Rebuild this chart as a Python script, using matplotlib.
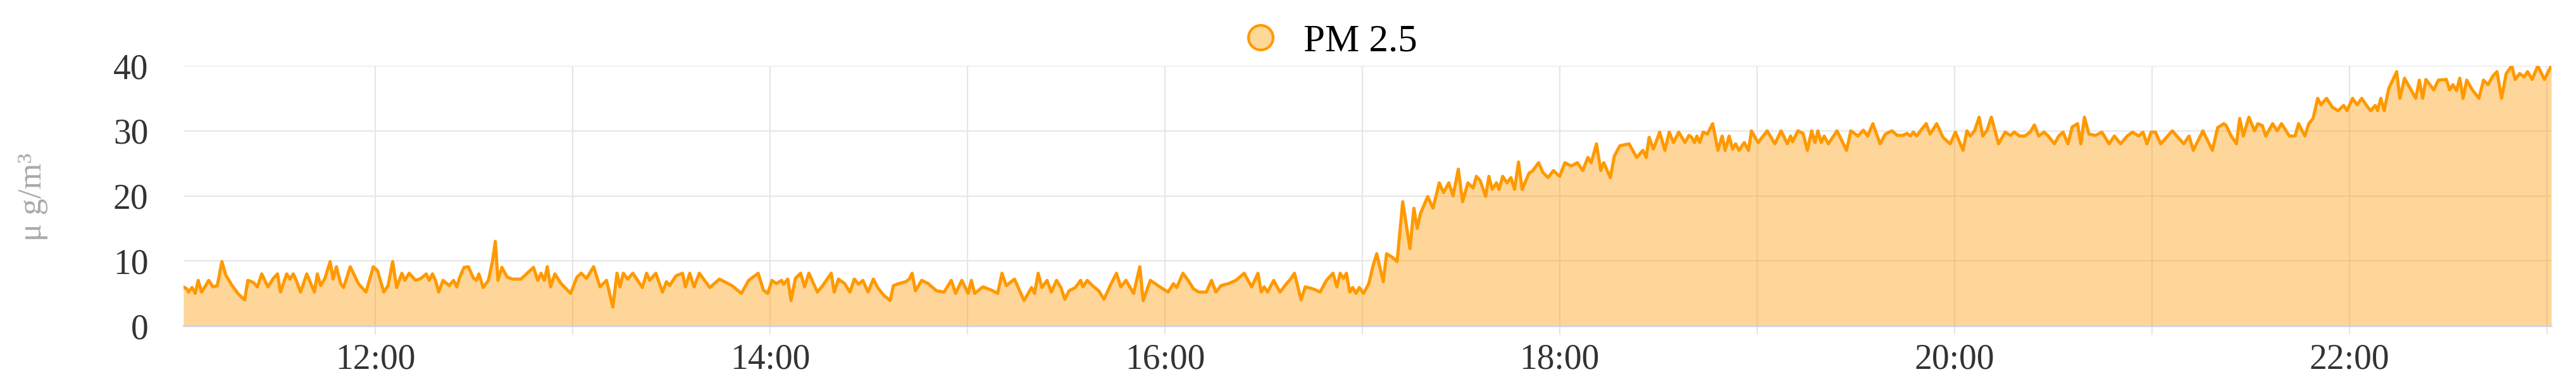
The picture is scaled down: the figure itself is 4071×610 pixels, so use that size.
import matplotlib.pyplot as plt
from matplotlib.lines import Line2D

plt.rcParams["font.family"] = ["Liberation Serif", "DejaVu Serif"]

# Readings taken off the chart: minutes after 11:00 and PM 2.5 in ug/m3.
minutes = [
    1.7, 2.7, 3.3, 4.3, 5.3, 6.2, 7.2, 8.1, 9.4, 10.7, 12.0, 13.4, 14.6, 16.5,
    18.4, 20.3, 21.3, 22.9, 24.2, 25.5, 27.4, 29.0, 30.3, 31.2, 33.1, 34.1,
    35.1, 36.0, 37.3, 39.2, 41.5, 42.4, 43.4, 44.7, 46.3, 47.2, 48.2, 49.5,
    50.4, 52.4, 54.9, 57.2, 59.4, 60.7, 62.6, 63.9, 65.3,
    66.5, 68.1, 69.0, 70.3, 72.3, 73.9, 75.5, 76.4, 77.4, 78.3, 79.3, 80.6,
    82.5, 83.8, 84.8, 85.7, 87.0, 88.3, 89.9, 90.8, 91.5, 92.8, 94.4, 95.7,
    96.5, 97.3, 98.5, 100.1, 101.7, 104.3, 106.2, 108.1, 109.4, 110.4, 111.4,
    112.3, 113.3, 114.6, 116.5, 119.4, 121.3, 122.6, 124.2, 126.4, 128.3,
    130.3, 132.2,
    133.5, 134.4, 135.4, 136.7, 138.3, 141.2, 142.5, 143.4, 145.3, 147.3,
    148.5, 149.5, 151.4, 153.4, 154.3, 155.6, 156.9, 158.5, 161.7, 164.6,
    168.4, 171.3, 173.5, 176.4, 178.0, 179.3, 180.6, 181.9, 183.5, 184.1,
    185.4, 186.4, 187.7, 189.3, 190.5, 191.8, 194.4, 196.0,
    198.6, 199.5, 200.8, 202.7, 204.3, 205.6, 206.9, 208.2, 209.8, 211.4,
    212.7, 214.6, 216.5, 217.5, 219.1, 221.3, 222.3, 223.2, 224.2, 226.1,
    228.1, 230.6, 232.9, 235.1, 236.4, 238.3, 240.2, 241.2, 242.2, 244.7,
    247.3, 249.2, 250.5, 251.8, 254.3, 257.2, 259.5, 260.4, 261.5,
    262.6, 264.2, 265.5, 267.1, 268.4, 269.6, 270.9, 272.8, 274.4, 275.1,
    276.4, 278.0, 279.9, 281.5, 283.4, 285.3, 286.6, 288.2, 290.5, 292.4,
    293.4, 295.6, 298.5, 301.0, 302.6, 303.6, 305.5, 307.1, 308.7, 310.3,
    312.6, 314.2, 315.5, 317.1, 319.3, 321.6, 324.1, 326.4, 328.3,
    329.3, 330.2, 331.2, 333.1, 335.0, 337.0, 338.2, 339.4, 340.5, 341.4,
    342.7, 345.0, 347.2, 349.1, 351.1, 352.3, 353.3, 354.3, 355.2, 356.2,
    357.1, 358.1, 359.1, 360.4, 362.0, 363.2, 364.4, 366.4, 367.4, 369.0,
    370.6, 372.3, 374.5, 375.7, 376.7, 377.7, 379.9, 381.5, 383.4, 384.7,
    386.3, 387.6, 389.2, 390.5, 392.1, 393.7,
    394.7, 395.9, 397.5, 398.5, 399.5, 400.8, 401.6, 402.7, 404.0, 405.2,
    406.3, 407.5, 408.6, 410.7, 411.7, 413.6, 414.9, 416.5, 418.1, 420.0,
    421.6, 423.5, 425.4, 427.0, 428.6, 429.6, 431.2, 432.5, 433.4, 435.4,
    436.6, 438.3, 441.1, 443.4, 445.3, 446.3, 447.2, 448.5, 450.4, 452.0,
    453.3, 454.6, 456.2, 458.1, 459.3,
    460.1, 461.0, 461.7, 462.6, 463.6, 464.9, 466.5, 468.1, 469.4, 470.3,
    471.5, 472.6, 473.5, 474.5, 476.1, 477.4, 478.3, 480.3, 483.1, 485.4,
    487.3, 489.2, 490.2, 490.8, 492.4, 494.0, 495.3, 496.6, 497.6, 498.5,
    499.5, 500.4, 501.7, 504.3, 507.2, 508.5, 510.7, 512.3, 513.6, 515.2,
    517.4, 519.0, 521.0, 522.6,
    524.3, 525.6, 526.6, 527.5, 528.5, 529.8, 531.4, 532.6, 534.6, 536.5,
    538.7, 540.3, 542.6, 543.8, 544.8, 546.1, 547.5, 548.6, 549.9, 551.2,
    553.4, 555.4, 557.0, 558.2, 559.8, 561.4, 563.0, 564.3, 565.6, 567.2,
    568.5, 570.4, 571.7, 573.0, 574.5, 575.8, 577.4, 578.4, 579.5, 580.9,
    582.9, 584.8, 587.0, 588.6, 590.5, 592.5, 594.1, 596.0, 597.3, 598.5,
    599.8, 601.1, 602.7, 606.2, 609.7, 611.3, 612.6, 615.5, 618.4, 620.0,
    621.9,
    622.6, 624.0, 625.7, 626.7, 627.8, 629.5, 631.2, 632.2, 633.6, 634.6,
    636.7, 638.1, 639.4, 641.8, 643.5, 644.6, 646.5, 647.7, 649.0, 650.4,
    651.4, 653.1, 654.9, 656.6, 658.3, 659.3, 661.0, 662.4, 663.8, 665.1,
    666.5, 667.9, 668.6, 669.6, 670.6, 672.0, 674.4, 675.4, 676.8, 680.2,
    681.3, 682.3, 683.3, 685.7, 687.1, 689.5, 690.5, 691.5, 692.6, 693.6,
    694.6, 695.7, 697.4, 699.4, 700.8, 702.2, 703.6, 704.9, 706.3, 707.7,
    709.4, 710.4, 711.8, 713.2, 714.2, 715.6, 717.3, 719.3, 721.4,
]

pm25 = [
    6.0, 5.7, 5.2, 5.9, 5.0, 7.0, 5.2, 5.9, 7.0, 6.0, 6.2, 9.9, 7.8, 6.2,
    4.9, 4.0, 7.0, 6.7, 6.0, 8.0, 6.0, 7.3, 8.0, 5.2, 8.0, 7.2,
    8.0, 7.0, 5.2, 8.0, 5.2, 8.0, 6.2, 7.3, 9.9, 7.2, 9.1, 6.5,
    5.9, 9.1, 6.5, 5.2, 9.1, 8.5, 5.2, 6.2, 9.9,
    5.9, 8.1, 7.0, 8.1, 7.0, 7.3, 8.0, 7.0, 8.0, 7.0, 5.2, 7.0,
    6.2, 7.0, 6.0, 7.5, 9.0, 9.1, 7.3, 7.0, 8.0, 5.9, 7.0, 10.1,
    13.0, 7.0, 9.0, 7.5, 7.2, 7.2, 8.1, 9.0, 7.0, 8.1, 7.0,
    9.1, 6.0, 8.0, 6.5, 5.0, 7.5, 8.1, 7.3, 9.1, 6.0,
    7.0, 2.9,
    8.1, 6.0, 8.1, 7.2, 8.1, 5.9, 8.1, 7.0, 8.1, 5.2,
    6.8, 6.2, 7.7, 8.1, 6.0, 8.1, 6.0, 8.1, 5.9, 7.2,
    6.2, 5.0, 7.0, 8.1, 5.5, 5.0, 7.0, 6.5, 7.0, 6.4,
    7.2, 3.9, 7.3, 8.1, 6.0, 8.1, 5.2, 6.2,
    8.1, 5.2, 7.2, 6.5, 5.2, 7.2, 6.4, 7.0, 5.2, 7.2,
    5.9, 4.7, 3.9, 6.2, 6.5, 6.8, 7.2, 8.1, 5.4, 7.0,
    6.5, 5.4, 5.2, 7.0, 5.0, 7.0, 5.0, 7.0, 5.0, 6.0,
    5.5, 5.0, 8.1, 6.2, 7.2, 3.9, 5.9, 5.0, 8.1,
    5.9, 7.0, 5.2, 7.0, 5.9, 4.1, 5.4, 5.9, 7.0, 6.0,
    7.0, 6.2, 5.4, 4.1, 6.2, 8.1, 6.0, 7.0, 5.0, 9.1,
    3.9, 7.0, 6.0, 5.2, 6.5, 5.9, 8.1, 7.0, 5.7, 5.2,
    5.2, 7.0, 5.2, 6.2, 6.5, 7.0, 8.1, 6.0, 8.1,
    5.2, 6.0, 5.2, 7.0, 5.2, 6.5, 7.2, 8.1, 5.9, 4.0,
    6.0, 5.7, 5.2, 7.0, 8.1, 6.0, 8.1, 7.3, 8.1, 5.2,
    5.9, 5.0, 5.9, 5.0, 6.5, 9.1, 11.1, 6.8, 11.1, 10.6,
    9.9, 19.1, 11.9, 18.1, 15.0, 17.3, 19.9, 18.1, 22.0, 20.5,
    22.0, 20.0, 24.1, 19.1, 22.0, 21.2,
    23.0, 22.3, 19.9, 23.0, 21.0, 22.0, 21.0, 23.0, 22.0, 22.8,
    21.0, 25.2, 21.0, 23.5, 23.8, 25.1, 23.6, 22.8, 23.9, 23.0,
    25.1, 24.6, 25.1, 23.9, 25.9, 25.1, 28.0, 23.9, 25.1, 22.8,
    26.1, 27.7, 28.0, 25.9, 27.0, 25.9, 29.0, 27.2, 29.8, 27.0,
    29.8, 28.2, 29.8, 28.2, 29.3,
    29.0, 28.2, 29.2, 28.2, 29.8, 29.5, 31.1, 27.0, 29.2, 27.0,
    29.2, 27.2, 28.0, 27.0, 28.2, 27.0, 30.0, 28.2, 30.0, 28.0,
    30.0, 28.0, 29.2, 28.3, 30.0, 29.6, 27.0, 30.0, 28.2, 30.0,
    28.2, 29.2, 28.0, 30.0, 27.0, 30.0, 29.2, 30.1, 29.2, 31.1,
    28.0, 29.5, 30.0, 29.3,
    29.3, 29.6, 29.2, 29.8, 29.2, 30.1, 31.1, 29.5, 31.1, 29.0,
    28.0, 29.8, 27.0, 30.0, 29.2, 30.0, 32.1, 29.2, 30.1, 32.1,
    28.0, 29.8, 29.3, 29.8, 29.2, 29.2, 29.8, 30.9, 29.2, 29.8,
    29.2, 28.0, 29.2, 29.8, 28.0, 30.6, 31.1, 28.0, 32.1, 29.5,
    29.3, 29.8, 28.0, 29.2, 28.0, 29.2, 29.8, 29.2, 29.8, 28.0,
    29.8, 29.8, 28.0, 30.0, 28.0, 29.2, 27.0, 30.0, 27.0, 30.5,
    31.1,
    30.8, 29.3, 28.0, 31.9, 29.2, 32.1, 30.0, 31.1, 30.8, 29.2,
    31.1, 30.0, 31.1, 29.2, 29.2, 31.1, 29.2, 31.1, 31.9, 35.0,
    34.0, 35.0, 33.6, 33.1, 33.9, 33.1, 35.0, 34.0, 35.0, 34.0,
    33.1, 33.9, 33.1, 35.0, 33.1, 36.5, 39.1, 35.0, 38.1, 35.0,
    37.8, 35.0, 37.9, 36.3, 37.8, 37.9, 36.3, 37.1, 36.2, 38.1,
    35.0, 37.8, 36.3, 35.0, 37.8, 37.1, 38.4, 39.1, 35.0, 38.8,
    40.0, 37.9, 38.8, 38.3, 39.1, 37.9, 40.0, 37.9, 40.0,
]

hour_ticks = list(range(60, 721, 60))
hour_labels = ["12:00", "", "14:00", "", "16:00", "", "18:00", "", "20:00", "", "22:00", ""]
y_ticks = [0, 10, 20, 30, 40]

line_color = "#ff9900"

fig = plt.figure(figsize=(40.71, 6.10), dpi=100)
ax = fig.add_axes([0.0712, 0.1557, 0.9192, 0.6738])

ax.fill_between(minutes, pm25, 0, color=line_color, alpha=0.4, linewidth=0)
ax.plot(minutes, pm25, color=line_color, linewidth=3.6)

ax.set_xlim(minutes[0], minutes[-1])
ax.set_ylim(0, 40)
ax.set_xticks(hour_ticks)
ax.set_xticklabels(hour_labels)
ax.set_yticks(y_ticks)

ax.grid(True, color="#e6e6e6", linewidth=1.5)
ax.set_axisbelow(True)
for side in ["top", "right", "left"]:
    ax.spines[side].set_visible(False)
ax.spines["bottom"].set_color("#ccd6eb")
ax.spines["bottom"].set_linewidth(2)

ax.tick_params(axis="both", labelsize=40, labelcolor="#333333")
ax.tick_params(axis="y", length=0, pad=40)
ax.tick_params(axis="x", length=10, width=1.5, color="#e6e6e6", pad=10)

fig.text(52 / 4071, 0.49, "\u03bc g/m\u00b3", rotation=90, ha="center", va="center",
         fontsize=38, color="#aaaaaa")

handle = Line2D([0], [0], marker="o", linestyle="none", markersize=28,
                markerfacecolor="#fdd897", markeredgecolor=line_color, markeredgewidth=3)
fig.legend(handles=[handle], labels=["PM 2.5"], loc="center", bbox_to_anchor=(0.516, 0.893),
           frameon=False, fontsize=44, handletextpad=0.6, handlelength=1.0)

fig.savefig("out.png", dpi=100)
